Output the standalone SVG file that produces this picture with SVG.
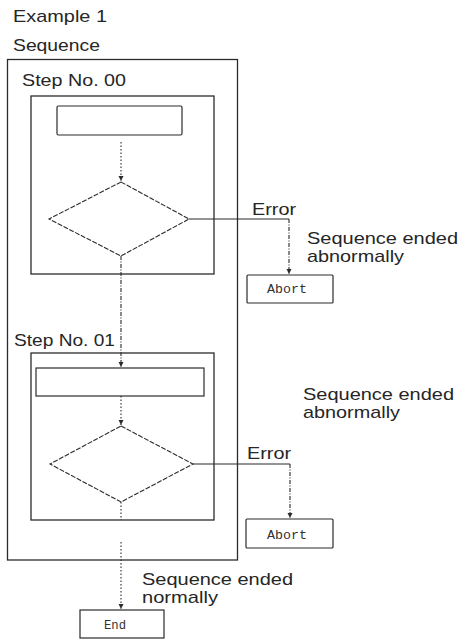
<svg xmlns="http://www.w3.org/2000/svg" width="463" height="643" viewBox="0 0 463 643">
<style>
.bg{fill:#ffffff}
.box{fill:none;stroke:#2b2b2b;stroke-width:1.3}
.pr{fill:none;stroke:#2b2b2b;stroke-width:1.2}
.dia{fill:none;stroke:#2b2b2b;stroke-width:1.1;stroke-dasharray:5 1.5}
.sol{fill:none;stroke:#2b2b2b;stroke-width:1.2}
.dsh{fill:none;stroke:#2b2b2b;stroke-width:1.1;stroke-dasharray:4 1.5 1 1.5}
.dot{fill:none;stroke:#2b2b2b;stroke-width:1.1;stroke-dasharray:1.5 2}
.t{font-family:"Liberation Sans",Arial,sans-serif;font-size:17px;fill:#262626}
.m{font-family:"Liberation Mono","Courier New",monospace;font-size:12px;fill:#333333}
</style>
<defs>
<marker id="ah" markerUnits="userSpaceOnUse" markerWidth="6" markerHeight="6" refX="5" refY="3" orient="auto">
<path d="M0,0.5 L5,3 L0,5.5 z" fill="#2b2b2b"/>
</marker>
</defs>
<rect class="bg" x="0" y="0" width="463" height="643"/>
<g id="titles">
<text class="t" x="13" y="22" textLength="94" lengthAdjust="spacingAndGlyphs">Example 1</text>
<text class="t" x="13" y="51" textLength="87" lengthAdjust="spacingAndGlyphs">Sequence</text>
</g>
<g id="sequence">
<rect class="box" x="7.5" y="59.5" width="230" height="500.5"/>
</g>
<g id="step00">
<text class="t" x="22" y="86" textLength="104" lengthAdjust="spacingAndGlyphs">Step No. 00</text>
<rect class="box" x="31" y="96" width="183" height="178"/>
</g>
<g id="process00">
<rect class="pr" x="57" y="106" width="125" height="29" rx="1.5"/>
</g>
<g id="decision00">
<polygon class="dia" points="121,182 189,219 121,256 49,219"/>
</g>
<g id="abort00">
<rect class="pr" x="247" y="275" width="86" height="28" rx="1"/>
<text class="m" x="267" y="293" textLength="40" lengthAdjust="spacingAndGlyphs">Abort</text>
</g>
<g id="step01">
<text class="t" x="14" y="346" textLength="101" lengthAdjust="spacingAndGlyphs">Step No. 01</text>
<rect class="box" x="31" y="353" width="183" height="167"/>
</g>
<g id="process01">
<rect class="pr" x="36" y="368" width="168" height="28"/>
</g>
<g id="decision01">
<polygon class="dia" points="121,426 193,464 121,502 50,464"/>
</g>
<g id="abort01">
<rect class="pr" x="246" y="519" width="87" height="29" rx="1"/>
<text class="m" x="267" y="539" textLength="40" lengthAdjust="spacingAndGlyphs">Abort</text>
</g>
<g id="end">
<rect class="pr" x="80" y="610" width="84" height="28"/>
<text class="m" x="104" y="629" textLength="22" lengthAdjust="spacingAndGlyphs">End</text>
</g>
<g id="labels">
<text class="t" x="252" y="215" textLength="44" lengthAdjust="spacingAndGlyphs">Error</text>
<text class="t" x="307" y="244" textLength="151" lengthAdjust="spacingAndGlyphs">Sequence ended</text>
<text class="t" x="307" y="262" textLength="97" lengthAdjust="spacingAndGlyphs">abnormally</text>
<text class="t" x="303" y="400" textLength="151" lengthAdjust="spacingAndGlyphs">Sequence ended</text>
<text class="t" x="303" y="418" textLength="97" lengthAdjust="spacingAndGlyphs">abnormally</text>
<text class="t" x="247" y="459" textLength="44" lengthAdjust="spacingAndGlyphs">Error</text>
<text class="t" x="142" y="585" textLength="151" lengthAdjust="spacingAndGlyphs">Sequence ended</text>
<text class="t" x="142" y="603" textLength="76" lengthAdjust="spacingAndGlyphs">normally</text>
</g>
<g id="connectors">
<line class="dot" x1="121" y1="142" x2="121" y2="181" marker-end="url(#ah)"/>
<line class="sol" x1="189" y1="219" x2="289" y2="219"/>
<line class="dsh" x1="289" y1="219" x2="289" y2="274" marker-end="url(#ah)"/>
<line class="dsh" x1="121" y1="256" x2="121" y2="367" marker-end="url(#ah)"/>
<line class="dot" x1="121" y1="396" x2="121" y2="425" marker-end="url(#ah)"/>
<line class="sol" x1="193" y1="464" x2="290" y2="464"/>
<line class="dsh" x1="290" y1="464" x2="290" y2="518" marker-end="url(#ah)"/>
<line class="dot" x1="121" y1="502" x2="121" y2="520"/>
<line class="dot" x1="121" y1="542" x2="121" y2="609" marker-end="url(#ah)"/>
</g>
</svg>
